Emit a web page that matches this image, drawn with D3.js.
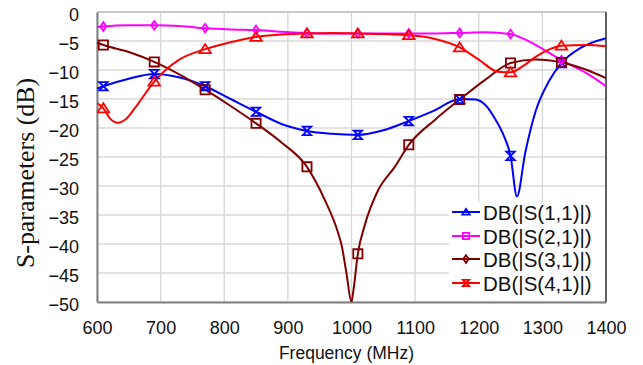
<!DOCTYPE html>
<html>
<head>
<meta charset="utf-8">
<script src="https://cdn.jsdelivr.net/npm/d3@7"></script>
<style>
  body { margin: 0; background: #fff; }
  svg { display: block; }
</style>
</head>
<body>
<div id="chart"></div>
<script>
// ---- data ----
const markerFreqs = [610, 690, 770, 850, 930, 1010, 1090, 1170, 1250, 1330];
const xTicks = [600, 700, 800, 900, 1000, 1100, 1200, 1300, 1400];
const yTicks = [0, -5, -10, -15, -20, -25, -30, -35, -40, -45, -50];
const seriesNames = ["DB(|S(1,1)|)", "DB(|S(2,1)|)", "DB(|S(3,1)|)", "DB(|S(4,1)|)"];

const s11 = [[600,-13.2],[610,-12.8],[650,-11.5],[690,-10.7],[730,-11.3],[770,-12.8],[810,-15.0],
  [850,-17.2],[890,-19.3],[930,-20.5],[970,-21.0],[1010,-21.2],[1050,-20.4],[1090,-18.8],[1130,-17.0],
  [1170,-15.0],[1195,-15.1],[1210,-16.0],[1225,-18.3],[1240,-21.5],[1250,-24.8],[1260,-31.8],
  [1273,-24.3],[1290,-16.9],[1310,-12.0],[1330,-8.8],[1360,-6.2],[1400,-4.5]];
const s21 = [[600,-2.6],[610,-2.5],[650,-2.3],[690,-2.3],[730,-2.4],[770,-2.8],[810,-3.0],[850,-3.1],
  [890,-3.4],[930,-3.6],[970,-3.7],[1010,-3.7],[1050,-3.7],[1090,-3.7],[1130,-3.7],[1170,-3.6],
  [1210,-3.5],[1250,-3.8],[1270,-4.6],[1290,-5.7],[1310,-7.0],[1330,-8.3],[1370,-10.6],[1400,-12.8]];
const s31 = [[600,-5.3],[610,-5.7],[650,-6.9],[690,-8.6],[730,-10.8],[770,-13.4],[810,-16.2],[850,-19.2],
  [890,-22.5],[930,-26.7],[958,-32.4],[979,-38.1],[985,-40.5],[992,-45],[1000,-50],[1003,-48],[1010,-41.7],
  [1021,-36.7],[1042,-30.7],[1068,-26.7],[1090,-22.9],[1131,-18.6],[1170,-15.1],[1210,-11.7],[1250,-8.8],
  [1290,-8.2],[1330,-8.7],[1370,-10.0],[1400,-11.4]];
const s41 = [[600,-15.7],[610,-16.6],[620,-18.3],[633,-19.1],[645,-18.5],[660,-16.5],[690,-12.0],[728,-8.3],
  [770,-6.4],[810,-5.2],[850,-4.3],[890,-3.9],[930,-3.7],[970,-3.6],[1010,-3.7],[1050,-3.8],[1090,-4.0],
  [1130,-4.6],[1170,-6.1],[1200,-8.2],[1230,-10.3],[1250,-10.4],[1270,-9.3],[1290,-7.7],[1310,-6.5],
  [1330,-5.8],[1370,-5.7],[1400,-5.9]];

const W = 643, H = 365;
const plot = { left: 97, right: 606, top: 12, bottom: 302 };

const svg = d3.select("#chart").append("svg")
  .attr("width", W).attr("height", H)
  .style("font-family", "Arial, 'Liberation Sans', sans-serif");

const x = d3.scaleLinear().domain([600, 1400]).range([plot.left, plot.right]);
const y = d3.scaleLinear().domain([-50, 0]).range([plot.bottom, plot.top]);

// gridlines
svg.append("g").selectAll("line.vg").data(xTicks).enter().append("line")
  .attr("x1", d => x(d)).attr("x2", d => x(d))
  .attr("y1", plot.top).attr("y2", plot.bottom)
  .attr("stroke", "#d6d6d6").attr("stroke-width", 1.3);
svg.append("g").selectAll("line.hg").data(yTicks).enter().append("line")
  .attr("x1", plot.left).attr("x2", plot.right)
  .attr("y1", d => y(d)).attr("y2", d => y(d))
  .attr("stroke", "#d9d9d9").attr("stroke-width", 1.3);

// frame
svg.append("line").attr("x1", plot.left).attr("x2", plot.right).attr("y1", plot.top).attr("y2", plot.top)
  .attr("stroke", "#c0c0c0").attr("stroke-width", 1.5);
svg.append("line").attr("x1", plot.right).attr("x2", plot.right).attr("y1", plot.top).attr("y2", plot.bottom)
  .attr("stroke", "#333").attr("stroke-width", 1.5);

// axes (labels only, no tick marks)
const xAxis = svg.append("g")
  .attr("transform", `translate(0,${plot.bottom})`)
  .call(d3.axisBottom(x).tickValues(xTicks).tickSize(0).tickPadding(0).tickFormat(d3.format("d")));
xAxis.select(".domain").attr("stroke", "#808080").attr("stroke-width", 2);
xAxis.selectAll("text").attr("y", 32).attr("dy", null)
  .style("font-size", "18px").attr("fill", "#111");

const yAxis = svg.append("g")
  .attr("transform", `translate(${plot.left},0)`)
  .call(d3.axisLeft(y).tickValues(yTicks).tickSize(0).tickFormat(d3.format("d")));
yAxis.select(".domain").attr("stroke", "#808080").attr("stroke-width", 2);
yAxis.selectAll("text").attr("x", -18).attr("dy", "0.45em")
  .style("font-size", "18px").attr("fill", "#111");

// axis titles
svg.append("text")
  .attr("x", (plot.left + plot.right) / 2 - 5).attr("y", 359)
  .attr("text-anchor", "middle")
  .style("font-size", "17.5px").attr("fill", "#111")
  .text("Frequency (MHz)");

svg.append("text")
  .attr("transform", "translate(34,173) rotate(-90)")
  .attr("text-anchor", "middle")
  .style("font-family", "'Liberation Serif', 'Times New Roman', serif")
  .style("font-size", "26px").attr("fill", "#111")
  .attr("textLength", 190).attr("lengthAdjust", "spacingAndGlyphs")
  .text("S-parameters (dB)");

// marker shapes
const shapes = {
  hourglass: s => `M${-s},${-s}L${s},${-s}L${-s},${s}L${s},${s}Z`,
  diamond: s => `M0,${-s * 1.2}L${s * 0.85},0L0,${s * 1.2}L${-s * 0.85},0Z`,
  square: s => `M${-s},${-s}L${s},${-s}L${s},${s}L${-s},${s}Z`,
  triangle: s => `M0,${-s}L${s * 1.15},${s * 0.8}L${-s * 1.15},${s * 0.8}Z`
};

const series = [
  { name: seriesNames[0], data: s11, color: "#0000ff", marker: "hourglass", size: 4.2, legendMarker: "triangle" },
  { name: seriesNames[1], data: s21, color: "#ff00ff", marker: "diamond", size: 3.6, legendMarker: "square" },
  { name: seriesNames[2], data: s31, color: "#800000", marker: "square", size: 4.6, legendMarker: "diamond" },
  { name: seriesNames[3], data: s41, color: "#ff0000", marker: "triangle", size: 5, legendMarker: "hourglass" }
];

svg.append("clipPath").attr("id", "clip").append("rect")
  .attr("x", plot.left).attr("y", plot.top - 2)
  .attr("width", plot.right - plot.left).attr("height", plot.bottom - plot.top + 2);

const line = d3.line().x(d => x(d[0])).y(d => y(d[1])).curve(d3.curveMonotoneX);
const plotG = svg.append("g").attr("clip-path", "url(#clip)");

series.forEach(s => {
  plotG.append("path")
    .datum(s.data)
    .attr("d", line)
    .attr("fill", "none")
    .attr("stroke", s.color)
    .attr("stroke-width", 2);
});

series.forEach(s => {
  plotG.append("g").selectAll("path")
    .data(s.data.filter(d => markerFreqs.includes(d[0])))
    .enter().append("path")
    .attr("transform", d => `translate(${x(d[0])},${y(d[1])})`)
    .attr("d", shapes[s.marker](s.size))
    .attr("fill", "none")
    .attr("stroke", s.color)
    .attr("stroke-width", 1.8);
});

// legend
const legend = svg.append("g");
legend.append("rect")
  .attr("x", 449).attr("y", 202).attr("width", plot.right - 449 - 1).attr("height", plot.bottom - 202 - 1)
  .attr("fill", "#fff");
const rowY = [212, 236, 259, 283];
series.forEach((s, i) => {
  const g = legend.append("g").attr("transform", `translate(0,${rowY[i]})`);
  g.append("line").attr("x1", 452).attr("x2", 480).attr("y1", 0).attr("y2", 0)
    .attr("stroke", s.color).attr("stroke-width", 2);
  g.append("path")
    .attr("transform", "translate(466,0)")
    .attr("d", shapes[s.legendMarker](3.2))
    .attr("fill", "none").attr("stroke", s.color).attr("stroke-width", 1.8);
  g.append("text")
    .attr("x", 483).attr("y", 7.5)
    .style("font-size", "20.5px").attr("fill", "#111")
    .text(s.name);
});
</script>
</body>
</html>
